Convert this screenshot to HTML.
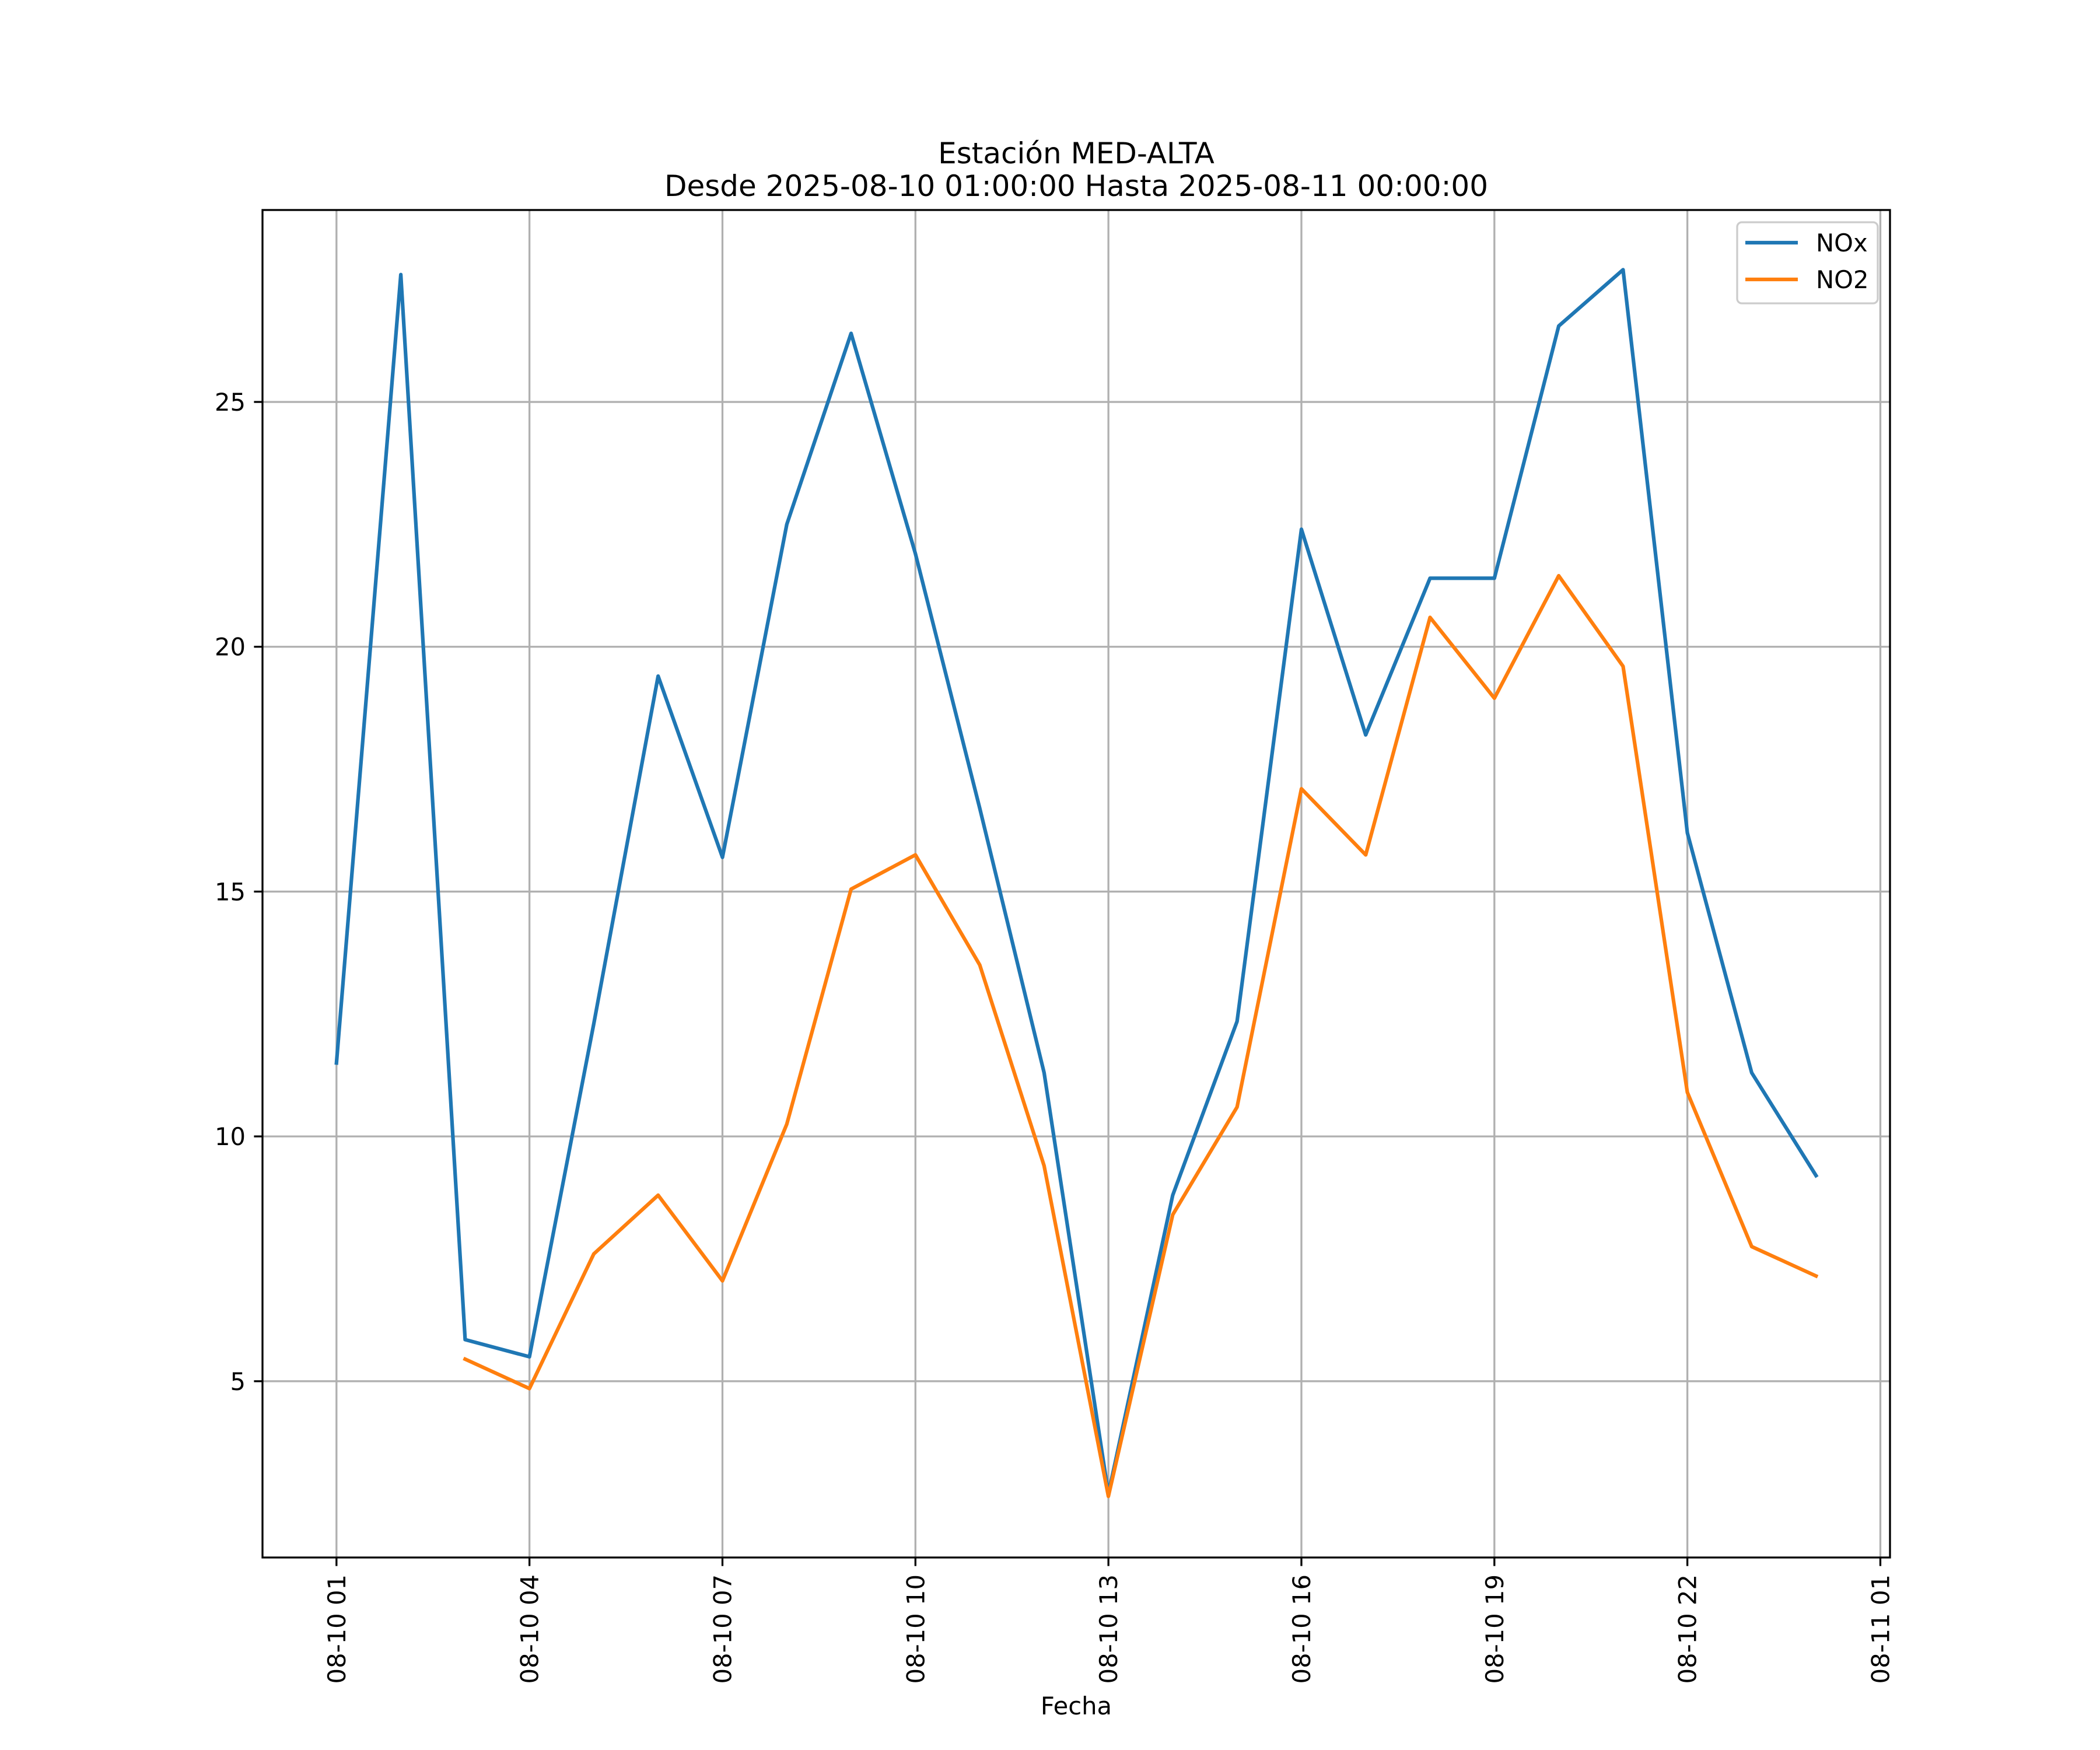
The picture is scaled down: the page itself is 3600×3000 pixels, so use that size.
<!DOCTYPE html>
<html><head><meta charset="utf-8"><style>
html,body{margin:0;padding:0;background:#fff}
svg{display:block;font-family:"DejaVu Sans","Liberation Sans",sans-serif}
</style></head><body>
<svg id="chart" width="3600" height="3000" viewBox="0 0 3600 3000" xmlns="http://www.w3.org/2000/svg">
<rect x="0" y="0" width="3600" height="3000" fill="#fff"/>
<text x="1845" y="280" font-size="50" text-anchor="middle">Estación MED-ALTA</text>
<text x="1845" y="336" font-size="50" text-anchor="middle">Desde 2025-08-10 01:00:00 Hasta 2025-08-11 00:00:00</text>
<g id="grid"></g>
<g id="series"></g>
<rect x="450" y="360" width="2790" height="2310" fill="none" stroke="#000" stroke-width="3.3"/>
<g id="ticks"></g>
<text x="1845" y="2939" font-size="41.7" text-anchor="middle">Fecha</text>
<g>
<rect x="2978" y="381" width="241" height="139" rx="8" fill="#fff" fill-opacity="0.8" stroke="#cccccc" stroke-width="3.3"/>
<line x1="2992" y1="416" x2="3082" y2="416" stroke="#1f77b4" stroke-width="6.25"/>
<text x="3113" y="431" font-size="41.7">NOx</text>
<line x1="2992" y1="479" x2="3082" y2="479" stroke="#ff7f0e" stroke-width="6.25"/>
<text x="3113" y="494" font-size="41.7">NO2</text>
</g>
</svg>
<script>
const hours = [1,2,3,4,5,6,7,8,9,10,11,12,13,14,15,16,17,18,19,20,21,22,23,24];
const noxValues = [11.5,27.6,5.85,5.5,12.3,19.4,15.7,22.5,26.4,21.9,16.7,11.3,2.7,8.8,12.35,22.4,18.2,21.4,21.4,26.55,27.7,16.2,11.3,9.2];
const no2Values = [null,null,5.45,4.85,7.6,8.8,7.05,10.25,15.05,15.75,13.5,9.4,2.65,8.4,10.6,17.1,15.75,20.6,18.95,21.45,19.6,10.9,7.75,7.15];
const yTicks = [5,10,15,20,25];
const xTickHours = [1,4,7,10,13,16,19,22,25];
const xTickLabels = ["08-10 01","08-10 04","08-10 07","08-10 10","08-10 13","08-10 16","08-10 19","08-10 22","08-11 01"];

const NS="http://www.w3.org/2000/svg";
const L=450,R=3240,T=360,B=2670;
const xMin=1-1.15,xMax=24+1.15,yMin=1.40,yMax=28.92;
function xs(h){return L+(h-xMin)/(xMax-xMin)*(R-L);}
function ys(v){return B-(v-yMin)/(yMax-yMin)*(B-T);}
function mk(tag,attrs,parent){const e=document.createElementNS(NS,tag);for(const k in attrs)e.setAttribute(k,attrs[k]);parent.appendChild(e);return e;}
const grid=document.getElementById('grid'),ticks=document.getElementById('ticks'),series=document.getElementById('series');
yTicks.forEach(v=>{
  const y=ys(v);
  const g=mk('line',{x1:L,y1:y,x2:R,y2:y,stroke:'#b0b0b0','stroke-width':3.3},grid);
  
  
  const t=mk('line',{x1:L-14.6,y1:y,x2:L,y2:y,stroke:'#000','stroke-width':3.3},ticks);
  
  
  const tx=mk('text',{x:L-29,y:y+15,'font-size':41.7,'text-anchor':'end'},ticks);
  tx.textContent=String(v);
  
  
});
xTickHours.forEach((h,i)=>{
  const x=xs(h);
  const g=mk('line',{x1:x,y1:T,x2:x,y2:B,stroke:'#b0b0b0','stroke-width':3.3},grid);
  
  
  const t=mk('line',{x1:x,y1:B,x2:x,y2:B+14.6,stroke:'#000','stroke-width':3.3},ticks);
  
  
  const tx=mk('text',{x:0,y:0,'font-size':41.7,'text-anchor':'end',transform:`translate(${x+15},${B+29}) rotate(-90)`},ticks);
  tx.textContent=xTickLabels[i];
  
  
});
function drawSeries(vals,color,name){
  let segs=[],cur=[];
  vals.forEach((v,i)=>{if(v===null){if(cur.length)segs.push(cur);cur=[];}else cur.push(xs(hours[i]).toFixed(1)+','+ys(v).toFixed(1));});
  if(cur.length)segs.push(cur);
  segs.forEach(s=>{
    const p=mk('polyline',{points:s.join(' '),fill:'none',stroke:color,'stroke-width':6.25,'stroke-linejoin':'round','stroke-linecap':'square'},series);
    
    
  });
}
drawSeries(noxValues,'#1f77b4','nox-line');
drawSeries(no2Values,'#ff7f0e','no2-line');
</script>
</body></html>
